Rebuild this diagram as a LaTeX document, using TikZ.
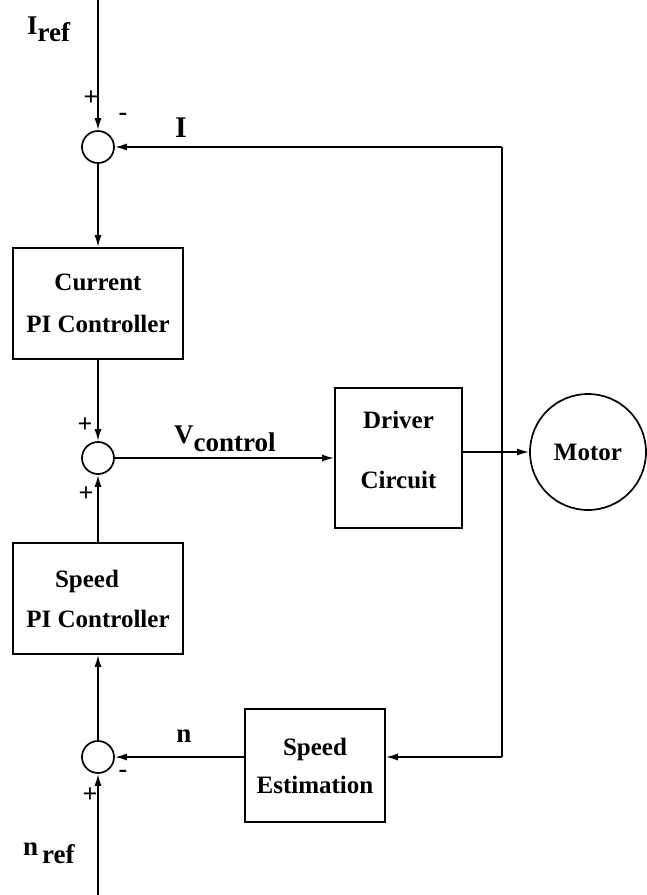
\documentclass[tikz,border=0pt]{standalone}
\usepackage{fontspec}
\setmainfont{Liberation Serif}
\usetikzlibrary{arrows.meta}
\tikzset{
  ln/.style={line width=1.7pt},
  arr/.style={ln,-{Latex[length=12pt,width=7pt]}},
  sum/.style={circle,draw,ln,minimum size=32pt,inner sep=0pt},
  blk/.style={rectangle,draw,ln,align=center,inner sep=0pt,font=\bfseries\fontsize{25}{42}\selectfont},
  lbl/.style={inner sep=0pt,font=\bfseries\fontsize{27}{30}\selectfont},
  sgn/.style={inner sep=0pt,font=\bfseries\fontsize{26}{28}\selectfont}
}
\begin{document}
\begin{tikzpicture}[x=1pt,y=-1pt]
\useasboundingbox (0,0) rectangle (647,895);
% summing junctions
\node[sum] (s1) at (98,147) {};
\node[sum] (s2) at (98,458) {};
\node[sum] (s3) at (98,757) {};
% blocks
\node[blk,minimum width=170pt,minimum height=111pt] (cpi) at (98,303.5) {Current\\PI Controller};
\node[blk,minimum width=170pt,minimum height=111pt,font=\bfseries\fontsize{25}{40}\selectfont] (spi) at (98,598.5) {\hspace*{-22pt}Speed\\PI Controller};
\node[blk,minimum width=127pt,minimum height=140pt,
      label={[inner sep=0pt,align=center,font=\bfseries\fontsize{25}{60}\selectfont,yshift=8pt]center:{Driver\\Circuit}}] (drv) at (398.5,458) {};
\node[blk,minimum width=140pt,minimum height=113pt,font=\bfseries\fontsize{25}{38}\selectfont] (se) at (315,765.5) {Speed\\Estimation};
\node[circle,draw,ln,minimum size=116pt,inner sep=0pt,font=\bfseries\fontsize{25}{30}\selectfont] (mot) at (588,452) {Motor};
% free ends
\coordinate (itop) at (98,0);
\coordinate (nbot) at (98,895);
\coordinate (fb1) at (502,147);
\coordinate (fb2) at (502,757);
% connectors
\draw[arr] (itop) -- (s1);
\draw[arr] (s1) -- (cpi);
\draw[arr] (cpi) -- (s2);
\draw[arr] (spi) -- (s2);
\draw[arr] (s3) -- (spi);
\draw[arr] (nbot) -- (s3);
\draw[arr] (s2) -- (s2 -| drv.west);
\draw[arr] (drv.east |- mot) -- (mot);
\draw[ln] (fb1) -- (fb2);
\draw[arr] (fb1) -- (s1);
\draw[arr] (fb2) -- (fb2 -| se.east);
\draw[arr] (s3 -| se.west) -- (s3);
% labels
\node[lbl,anchor=base west] (liref) at (27,34) {I\raisebox{-7pt}{ref}};
\node[lbl,anchor=base west] (lnref) at (23,855) {n\hspace{4pt}\raisebox{-8pt}{ref}};
\node[lbl,font=\bfseries\fontsize{30}{32}\selectfont] (li) at (181,128) {I};
\node[lbl,anchor=base west] (lv) at (174,443) {V\raisebox{-8pt}{control}};
\node[lbl] (ln) at (184,736) {n};
% signs
\node[sgn] (p1) at (91,98) {+};
\node[sgn] (m1) at (123,117) {-};
\node[sgn] (p2) at (85,425) {+};
\node[sgn] (p3) at (86,494) {+};
\node[sgn] (m3) at (123,774) {-};
\node[sgn] (p4) at (90,795) {+};
\end{tikzpicture}
\end{document}
